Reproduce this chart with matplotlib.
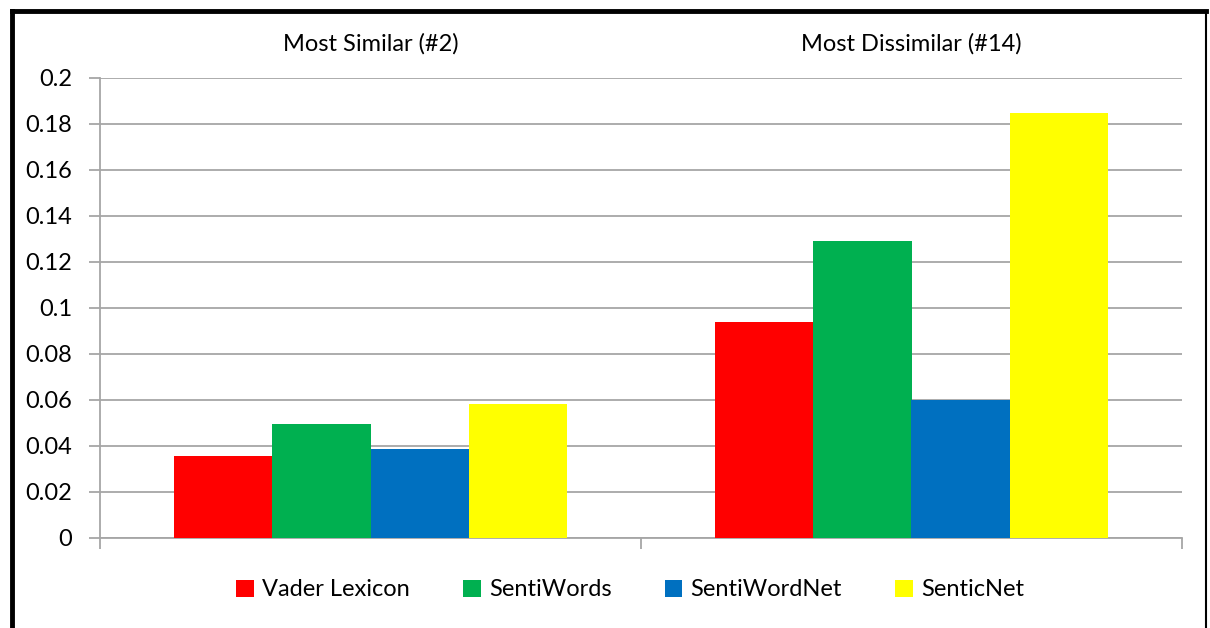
import numpy as np
import matplotlib.pyplot as plt
from matplotlib.lines import Line2D

categories = ["Most Similar (#2)", "Most Dissimilar (#14)"]
series = ["Vader Lexicon", "SentiWords", "SentiWordNet", "SenticNet"]
vader = [0.0357, 0.0939]
sentiwords = [0.0496, 0.1290]
sentiwordnet = [0.0387, 0.0600]
senticnet = [0.0583, 0.1847]
colors = ["#FF0000", "#00B050", "#0070C0", "#FFFF00"]
yticks = [0, 0.02, 0.04, 0.06, 0.08, 0.1, 0.12, 0.14, 0.16, 0.18, 0.2]
ytick_labels = ["0", "0.02", "0.04", "0.06", "0.08", "0.1", "0.12", "0.14", "0.16", "0.18", "0.2"]

plt.rcParams["font.family"] = ["Lato", "DejaVu Sans"]

W, H = 1210, 628
fig = plt.figure(figsize=(W / 100, H / 100), dpi=100)
ax = fig.add_axes([100 / W, 1 - 538 / H, (1182 - 100) / W, (538 - 78) / H])

grid_col = "#A6A6A6"
fs = 17
values = [vader, sentiwords, sentiwordnet, senticnet]
n = len(series)
bar_w = 1 / (n + 1.5)
x = np.arange(len(categories))
for i, (name, vals) in enumerate(zip(series, values)):
    offs = (i - (n - 1) / 2) * bar_w
    ax.bar(x + offs, vals, width=bar_w, color=colors[i], label=name, zorder=3)

ax.set_xlim(-0.5, len(categories) - 0.5)
ax.set_ylim(0, 0.2)
ax.set_yticks(yticks)
ax.set_yticklabels(ytick_labels, fontsize=fs)
ax.yaxis.grid(True, color=grid_col, linewidth=1.3, zorder=0)
ax.tick_params(axis="y", length=8, color=grid_col, width=1.3, pad=12)

# category separators as ticks below the axis
ax.set_xticks([-0.5, 0.5, 1.5])
ax.set_xticklabels([])
ax.tick_params(axis="x", length=8, color=grid_col, width=1.3)

for s in ["top", "right"]:
    ax.spines[s].set_visible(False)
for s in ["left", "bottom"]:
    ax.spines[s].set_color(grid_col)
    ax.spines[s].set_linewidth(1.3)

# category labels above the plot
for xi, c in zip(x, categories):
    ax.text(xi, 1.075, c, transform=ax.get_xaxis_transform(), ha="center",
            va="center", fontsize=fs)

ax.legend(loc="center", bbox_to_anchor=(0.49, -0.113), ncol=4, frameon=False,
          fontsize=fs, handlelength=0.75, handleheight=0.75, handletextpad=0.35,
          columnspacing=2.25)

# outer frame
fig.add_artist(Line2D([12 / W, 12 / W], [0, 1 - 11 / H], color="black", linewidth=3.5))
fig.add_artist(Line2D([12 / W, 1206 / W], [1 - 11 / H, 1 - 11 / H], color="black", linewidth=3.5))
fig.add_artist(Line2D([1206 / W, 1206 / W], [0, 1 - 11 / H], color="black", linewidth=1.5))

fig.savefig("out.png", dpi=100)
